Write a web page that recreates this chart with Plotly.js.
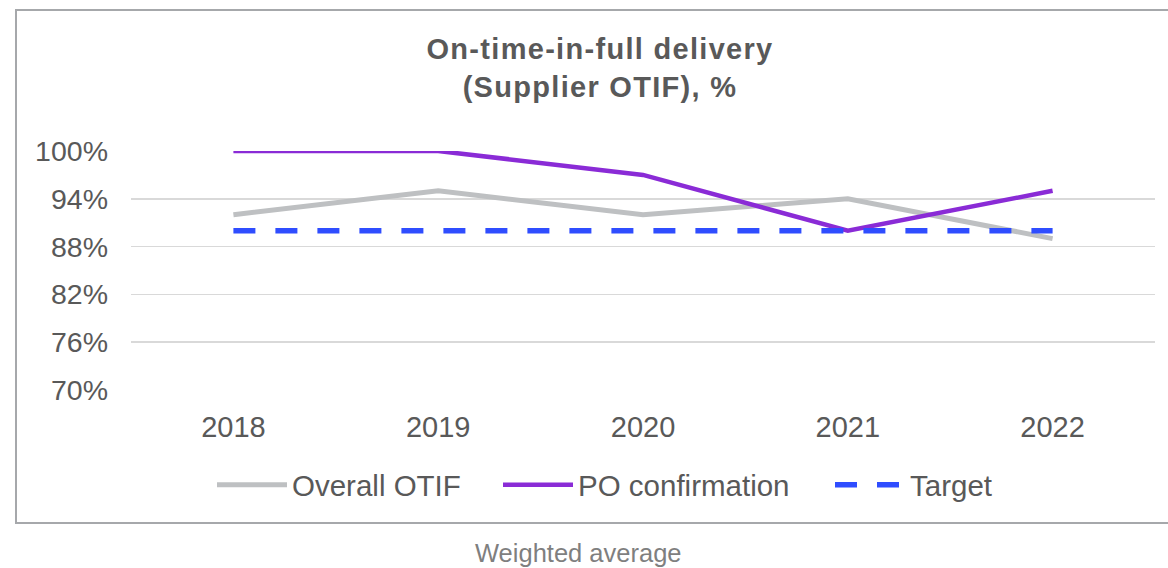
<!DOCTYPE html>
<html>
<head>
<meta charset="utf-8">
<script src="https://cdn.plot.ly/plotly-3.0.1.min.js"></script>
<style>
  html, body { margin: 0; padding: 0; background: #ffffff; }
  #wrap { position: relative; width: 1168px; height: 568px; overflow: hidden; }
  #chart { width: 1168px; height: 568px; }
  #frame { position: absolute; left: 15px; top: 9px; width: 1200px; height: 515px;
           border: 2px solid #A6A8AB; pointer-events: none; box-sizing: border-box; }
  #chart .gtitle { letter-spacing: 1.3px; }
</style>
</head>
<body>
<div id="wrap">
  <div id="chart"></div>
  <div id="frame"></div>
</div>
<script>
const years = ['2018', '2019', '2020', '2021', '2022'];
const overallOtif = [92, 95, 92, 94, 89];
const poConfirmation = [100, 100, 97, 90, 95];
const target = [90, 90, 90, 90, 90];
const yTicks = [70, 76, 82, 88, 94, 100];
const yTickLabels = ['70%', '76%', '82%', '88%', '94%', '100%'];
const titleText = 'On-time-in-full delivery<br>(Supplier OTIF), %';
const noteText = 'Weighted average';

const FONT = 'Arial, "Liberation Sans", sans-serif';
const TXT = '#595959';

const traces = [
  { x: years, y: overallOtif, name: 'Overall OTIF', type: 'scatter', mode: 'lines',
    line: { color: '#BEC0C2', width: 5 }, cliponaxis: false, legendwidth: 201 },
  { x: years, y: poConfirmation, name: 'PO confirmation', type: 'scatter', mode: 'lines',
    line: { color: '#8A2BD6', width: 4.5 }, cliponaxis: false, legendwidth: 247 },
  { x: years, y: target, name: 'Target', type: 'scatter', mode: 'lines',
    line: { color: '#2F4DFF', width: 5.5, dash: '22px,20px' }, cliponaxis: false }
];

const layout = {
  width: 1168, height: 568,
  margin: { l: 131, r: 13, t: 151, b: 178, autoexpand: false },
  paper_bgcolor: '#ffffff', plot_bgcolor: '#ffffff',
  font: { family: FONT, color: TXT, size: 29 },
  title: { text: titleText, font: { family: FONT, size: 29, color: TXT, weight: 'bold' },
           xref: 'container', x: 600 / 1168, xanchor: 'center',
           yref: 'container', y: 1 - 59 / 568, yanchor: 'top' },
  xaxis: { type: 'category', range: [-0.5, 4.5], showgrid: false, zeroline: false,
           showline: false, ticks: '', tickfont: { size: 29, color: TXT }, ticklabelstandoff: 17,
           fixedrange: true },
  yaxis: { range: [70, 100], tickvals: yTicks, ticktext: yTickLabels, showgrid: true,
           gridcolor: '#D9D9D9', gridwidth: 1.5, zeroline: false, showline: false, ticks: '',
           tickfont: { size: 28.5, color: TXT }, ticklabelstandoff: 22, fixedrange: true },
  showlegend: true,
  legend: { orientation: 'h', x: (212 - 131) / 1024, xanchor: 'left', y: (390 - 485) / 239,
            yanchor: 'middle', font: { size: 29.5, color: TXT }, bgcolor: 'rgba(0,0,0,0)',
            traceorder: 'normal', itemwidth: 70 },
  annotations: [
    { text: noteText, xref: 'paper', yref: 'paper', x: (578 - 131) / 1024, y: (390 - 553) / 239,
      xanchor: 'center', yanchor: 'middle', showarrow: false,
      font: { family: FONT, size: 25.5, color: '#7F7F7F' } }
  ]
};

Plotly.newPlot('chart', traces, layout, { staticPlot: true, displayModeBar: false });
</script>
</body>
</html>
